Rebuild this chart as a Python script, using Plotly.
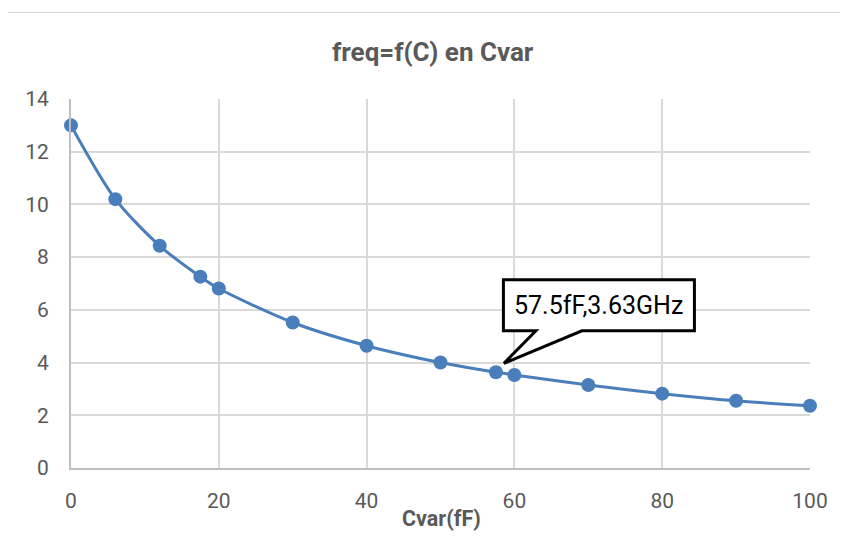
import plotly.graph_objects as go

# Data
cvar_fF = [0, 6, 12, 17.5, 20, 30, 40, 50, 57.5, 60, 70, 80, 90, 100]
freq_GHz = [13.0, 10.2, 8.43, 7.26, 6.81, 5.52, 4.64, 4.0, 3.63, 3.53, 3.15, 2.82, 2.55, 2.36]
x_ticks = [0, 20, 40, 60, 80, 100]
y_ticks = [0, 2, 4, 6, 8, 10, 12, 14]
callout_x = 57.5
callout_y = 3.63
callout_text = "57.5fF,3.63GHz"
title_text = "freq=f(C) en Cvar"
x_title = "Cvar(fF)"

FONT = "Roboto, sans-serif"
GRAY_TXT = "#595959"
BLUE = "#4A7EBB"

fig = go.Figure()
fig.add_trace(go.Scatter(
    x=cvar_fF, y=freq_GHz, mode="lines+markers",
    line=dict(color=BLUE, width=3, shape="spline", smoothing=0.8),
    marker=dict(color=BLUE, size=14),
    showlegend=False, hoverinfo="skip", cliponaxis=False,
))

# callout bubble (box + tail) anchored at the data point, sized in pixels
fig.add_shape(
    type="path", xref="x", yref="y", xsizemode="pixel", ysizemode="pixel",
    xanchor=callout_x, yanchor=callout_y,
    path="M 7.5 92.5 L 198.5 92.5 L 198.5 41.5 L 86 41.5 L 8 9 L 40 41.5 L 7.5 41.5 Z",
    fillcolor="white", line=dict(color="black", width=3), layer="above",
)
fig.add_annotation(
    x=callout_x, y=callout_y, xref="x", yref="y", text=callout_text,
    showarrow=False, xshift=103, yshift=67,
    font=dict(family=FONT, size=25, color="black"),
)

# outer chart border
fig.add_shape(type="rect", xref="paper", yref="paper",
              x0=-0.0886, x1=1.2, y0=-0.4, y1=1.2344,
              line=dict(color="#D9D9D9", width=1.2), fillcolor="rgba(0,0,0,0)", layer="below")

fig.add_annotation(xref="paper", yref="paper", x=0.4899, y=1.1274, text="<b>" + title_text + "</b>",
                   showarrow=False, xanchor="center", yanchor="middle",
                   font=dict(family=FONT, size=26, color=GRAY_TXT))
fig.add_annotation(xref="paper", yref="paper", x=0.5014, y=-0.1382, text="<b>" + x_title + "</b>",
                   showarrow=False, xanchor="center", yanchor="middle",
                   font=dict(family=FONT, size=21.5, color=GRAY_TXT))

fig.update_layout(
    width=848, height=539,
    margin=dict(l=63, r=46, t=91, b=79),
    paper_bgcolor="white", plot_bgcolor="white",
    font=dict(family=FONT, color=GRAY_TXT, size=21),
)
fig.update_xaxes(range=[0, 100], tickvals=x_ticks, showgrid=True, gridcolor="#D9D9D9", gridwidth=2,
                 showline=True, linecolor="#BFBFBF", linewidth=2, zeroline=False,
                 ticks="", ticklabelstandoff=13)
fig.update_yaxes(range=[0, 14], tickvals=y_ticks, showgrid=True, gridcolor="#D9D9D9", gridwidth=2,
                 showline=True, linecolor="#BFBFBF", linewidth=2, zeroline=False,
                 ticks="", ticklabelstandoff=16)

fig.write_html("out.html")
